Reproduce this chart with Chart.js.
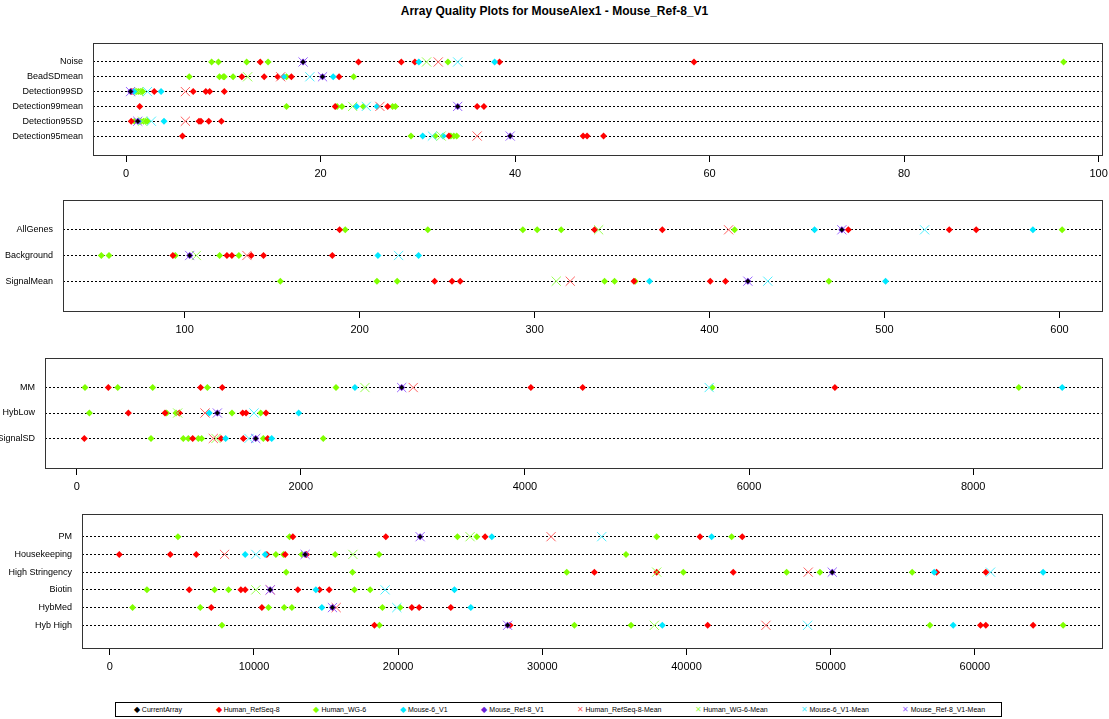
<!DOCTYPE html>
<html>
<head>
<meta charset="utf-8">
<script src="https://cdn.jsdelivr.net/npm/chart.js@4.4.1/dist/chart.umd.min.js"></script>
<style>
  body { margin: 0; background: #fff; }
  #wrap { position: relative; width: 1109px; height: 719px; background: #fff; overflow: hidden; font-family: "Liberation Sans", Arial, sans-serif; }
  #wrap canvas { position: absolute; left: 0; }
  #title { position: absolute; left: 0; width: 1109px; top: 4px; text-align: center; font-weight: bold; font-size: 12px; color: #000; }
  #legend { position: absolute; left: 115px; top: 702px; width: 885px; height: 13px; border: 1px solid #000; display: flex; justify-content: space-around; align-items: center; font-size: 7px; color: #000; }
  #legend span.m { display: inline-block; width: 10px; text-align: center; font-size: 8px; }
</style>
</head>
<body>
<div id="wrap">
  <div id="title">Array Quality Plots for MouseAlex1 - Mouse_Ref-8_V1</div>
  <canvas id="p1" width="1109" height="152" style="top:33px"></canvas>
  <canvas id="p2" width="1109" height="151" style="top:190px"></canvas>
  <canvas id="p3" width="1109" height="150" style="top:348px"></canvas>
  <canvas id="p4" width="1109" height="174" style="top:504px"></canvas>
  <div id="legend"></div>
</div>
<script>
// ---- panel 1
var p1Labels = ['Noise', 'BeadSDmean', 'Detection99SD', 'Detection99mean', 'Detection95SD', 'Detection95mean'];
var p1Ticks = [0, 20, 40, 60, 80, 100];
var p1Current = [18.2, 20.2, 0.46, 34.1, 1.2, 39.5];
var p1RefSeq = [[13.8, 23.9, 28.3, 29.7, 38.4, 58.4], [11.9, 14.2, 15.6, 17.0, 21.9], [0.6, 2.9, 6.9, 8.2, 8.6, 10.1], [1.4, 21.5, 26.9, 36.1, 36.8], [0.53, 7.5, 7.7, 8.5, 9.8], [5.8, 33.2, 47.0, 47.4, 49.1]];
var p1WG6 = [[8.8, 9.5, 12.4, 14.6, 33.1, 96.4], [6.5, 9.6, 10.0, 10.1, 11.0, 16.5, 23.4], [0.8, 1.1, 1.3, 1.5, 1.7], [16.5, 21.7, 22.2, 24.4, 27.4, 27.7], [0.87, 1.5, 1.8, 2.0, 2.2], [29.3, 31.8, 33.4, 33.7, 34.0]];
var p1M6 = [[30.1, 37.9], [16.2, 21.3], [0.8, 3.6], [23.7, 25.8], [1.3, 3.9], [30.5, 32.6]];
var p1RefSeqMean = [32.1, 15.9, 6.1, 26.1, 6.1, 36.1];
var p1WG6Mean = [30.9, 12.5, 1.3, 23.3, 1.7, 32.4];
var p1M6Mean = [34.1, 18.9, 2.2, 24.7, 2.6, 31.5];

// ---- panel 2
var p2Labels = ['AllGenes', 'Background', 'SignalMean'];
var p2Ticks = [100, 200, 300, 400, 500, 600];
var p2Current = [475.6, 102.9, 421.9];
var p2RefSeq = [[188.6, 334.3, 373, 479.3, 537, 552.4], [93.3, 124.2, 127, 138.1, 145.1, 184.4], [242.9, 252.8, 257.5, 356.8, 400.4, 409.1]];
var p2WG6 = [[191.8, 239, 293.3, 301.5, 315.2, 414.3, 601.5], [52.4, 56.8, 94.7, 120, 131], [154.7, 209.9, 221.5, 340, 345.7, 357.5, 468.2]];
var p2M6 = [[460, 584.8], [210.5, 233.7], [365.7, 500.6]];
var p2RefSeqMean = [410.9, 135.6, 320.4];
var p2WG6Mean = [336.6, 106.7, 312.4];
var p2M6Mean = [522.9, 222.3, 433.3];

// ---- panel 3
var p3Labels = ['MM', 'HybLow', 'SignalSD'];
var p3Ticks = [0, 2000, 4000, 6000, 8000];
var p3Current = [2900, 1255, 1597];
var p3RefSeq = [[282, 1106, 1299, 4053, 4515, 6766], [461, 788, 916, 1481, 1511, 1689], [68, 1035, 1288, 1487, 1704]];
var p3WG6 = [[74, 366, 678, 1166, 2314, 5671, 8407], [113, 803, 886, 1386, 1642], [663, 951, 996, 1085, 1115, 1665, 2200]];
var p3M6 = [[2483, 8794], [1183, 1981], [1329, 1740]];
var p3RefSeqMean = [3003, 1145, 1219];
var p3WG6Mean = [2572, 901, 1243];
var p3M6Mean = [5644, 1582, 1537];

// ---- panel 4
var p4Labels = ['PM', 'Housekeeping', 'High Stringency', 'Biotin', 'HybMed', 'Hyb High'];
var p4Ticks = [0, 10000, 20000, 30000, 40000, 50000, 60000];
var p4Current = [21525, 13553, 50108, 11127, 15445, 27591];
var p4RefSeq = [[12700, 19147, 26031, 40936, 43868], [659, 4194, 5996, 10897, 12166, 13650], [33610, 37934, 43244, 57345, 60762], [5511, 9093, 9393, 13047, 14545, 15217], [7036, 10551, 20950, 21456, 23653], [18357, 27764, 41470, 60393, 60762, 64042]];
var p4WG6 = [[4727, 12466, 24111, 25456, 37934, 43131], [11521, 12050, 13322, 15633, 18683, 35806], [12236, 16833, 31695, 39780, 46946, 49255, 55653], [2577, 7266, 8237, 16971, 18059], [1581, 6274, 11009, 12097, 12630, 18912, 20139], [7778, 18704, 32222, 36153, 56880, 66121]];
var p4M6 = [[26496, 41745], [9393, 10780], [57179, 64735], [14295, 23903], [14710, 25040], [38322, 58497]];
var p4RefSeqMean = [30607, 7960, 48444, 11134, 15702, 45511];
var p4WG6Mean = [24991, 16860, 37934, 10133, null, 37769];
var p4M6Mean = [34121, 10133, 61088, 19099, 19910, 48400];

var seriesNames = ['CurrentArray', 'Human_RefSeq-8', 'Human_WG-6', 'Mouse-6_V1', 'Mouse_Ref-8_V1',
    'Human_RefSeq-8-Mean', 'Human_WG-6-Mean', 'Mouse-6_V1-Mean', 'Mouse_Ref-8_V1-Mean'];
var seriesColors = ['#000000', '#ff0000', '#80ff00', '#00e8ff', '#6a20d8', '#ff6060', '#98ff50', '#50f0ff', '#9a66ff'];

var FONT = '"Liberation Sans", Arial, sans-serif';

// row i (0 = top) sits at y = n - i
function pts(labels, lists) {
    var n = labels.length, out = [];
    lists.forEach(function (vals, i) {
        vals.forEach(function (v) { if (v !== null) out.push({ x: v, y: n - i }); });
    });
    return out;
}
function single(arr) { return arr.map(function (v) { return [v]; }); }

var boxPlugin = {
    id: 'box',
    afterDraw: function (chart) {
        var a = chart.chartArea, c = chart.ctx;
        c.save();
        c.strokeStyle = '#333';
        c.lineWidth = 1;
        c.strokeRect(Math.round(a.left) + 0.5, Math.round(a.top) + 0.5, Math.round(a.right - a.left), Math.round(a.bottom - a.top));
        c.restore();
    }
};

function makePanel(id, cfg) {
    var n = cfg.labels.length;
    var dot = function (i, r) {
        return { label: seriesNames[i], pointStyle: 'rectRot', radius: r, backgroundColor: seriesColors[i], borderColor: seriesColors[i], borderWidth: 0 };
    };
    var cross = function (i) {
        return { label: seriesNames[i], pointStyle: 'crossRot', radius: 6.5, backgroundColor: seriesColors[i], borderColor: seriesColors[i], borderWidth: 1 };
    };
    // first dataset is drawn on top
    var sets = [
        Object.assign(dot(0, 2.5), { data: pts(cfg.labels, single(cfg.current)) }),
        Object.assign(cross(8), { data: pts(cfg.labels, single(cfg.current)) }),
        Object.assign(dot(4, 3.5), { data: pts(cfg.labels, single(cfg.current)) }),
        Object.assign(cross(5), { data: pts(cfg.labels, single(cfg.refseqMean)) }),
        Object.assign(cross(6), { data: pts(cfg.labels, single(cfg.wg6Mean)) }),
        Object.assign(cross(7), { data: pts(cfg.labels, single(cfg.m6Mean)) }),
        Object.assign(dot(3, 3.5), { data: pts(cfg.labels, cfg.m6) }),
        Object.assign(dot(1, 3.5), { data: pts(cfg.labels, cfg.refseq) }),
        Object.assign(dot(2, 3.5), { data: pts(cfg.labels, cfg.wg6) })
    ];
    var canvas = document.getElementById(id);
    var rows = [];
    for (var k = 1; k <= n; k++) rows.push(k);

    return new Chart(canvas.getContext('2d'), {
        type: 'scatter',
        data: { datasets: sets },
        plugins: [boxPlugin],
        options: {
            responsive: false,
            animation: false,
            events: [],
            layout: { padding: { top: 10, left: 0, right: 1109 - cfg.right, bottom: 0 } },
            plugins: { legend: { display: false }, tooltip: { enabled: false } },
            scales: {
                x: {
                    type: 'linear',
                    min: cfg.xmin,
                    max: cfg.xmax,
                    afterFit: function (s) { s.height = 30; s.paddingLeft = 0; s.paddingRight = 0; },
                    afterBuildTicks: function (s) { s.ticks = cfg.ticks.map(function (v) { return { value: v }; }); },
                    grid: { drawOnChartArea: false, drawTicks: true, tickLength: 7, color: '#000' },
                    border: { display: false },
                    ticks: {
                        padding: 5,
                        color: '#000',
                        font: { family: FONT, size: 11 },
                        maxRotation: 0,
                        callback: function (v) { return String(v); }
                    }
                },
                y: {
                    type: 'linear',
                    min: -0.04 * (n + 1),
                    max: 1.04 * (n + 1),
                    afterFit: function (s) { s.width = cfg.left; s.paddingTop = 0; s.paddingBottom = 0; },
                    afterBuildTicks: function (s) { s.ticks = rows.map(function (v) { return { value: v }; }); },
                    grid: { color: '#000', lineWidth: 1, drawTicks: false },
                    border: { display: false, dash: [2, 2] },
                    ticks: {
                        padding: 10,
                        color: '#000',
                        font: { family: FONT, size: 9 },
                        callback: function (v) { return cfg.labels[n - v]; }
                    }
                }
            }
        }
    });
}

document.addEventListener('DOMContentLoaded', function () {
    try {
        makePanel('p1', { labels: p1Labels, ticks: p1Ticks, current: p1Current, refseq: p1RefSeq, wg6: p1WG6, m6: p1M6,
            refseqMean: p1RefSeqMean, wg6Mean: p1WG6Mean, m6Mean: p1M6Mean, left: 93, right: 1102, xmin: -3.4, xmax: 100.3 });
        makePanel('p2', { labels: p2Labels, ticks: p2Ticks, current: p2Current, refseq: p2RefSeq, wg6: p2WG6, m6: p2M6,
            refseqMean: p2RefSeqMean, wg6Mean: p2WG6Mean, m6Mean: p2M6Mean, left: 63, right: 1102, xmin: 30.5, xmax: 624 });
        makePanel('p3', { labels: p3Labels, ticks: p3Ticks, current: p3Current, refseq: p3RefSeq, wg6: p3WG6, m6: p3M6,
            refseqMean: p3RefSeqMean, wg6Mean: p3WG6Mean, m6Mean: p3M6Mean, left: 45, right: 1102, xmin: -283, xmax: 9145 });
        makePanel('p4', { labels: p4Labels, ticks: p4Ticks, current: p4Current, refseq: p4RefSeq, wg6: p4WG6, m6: p4M6,
            refseqMean: p4RefSeqMean, wg6Mean: p4WG6Mean, m6Mean: p4M6Mean, left: 82, right: 1102, xmin: -1927, xmax: 68784 });
    } catch (e) {
        console.error('chart error', e);
    }

    // legend
    var lg = document.getElementById('legend');
    seriesNames.forEach(function (name, i) {
        var it = document.createElement('div');
        var mark = i < 5 ? '\u25C6' : '\u2715';
        it.innerHTML = '<span class="m" style="color:' + seriesColors[i] + '">' + mark + '</span>' + name;
        lg.appendChild(it);
    });
});
</script>
</body>
</html>
